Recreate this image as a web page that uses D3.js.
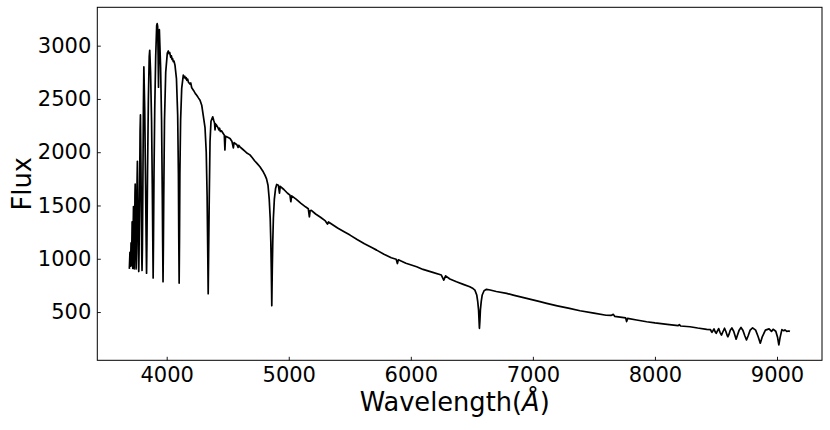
<!DOCTYPE html>
<html>
<head>
<meta charset="utf-8">
<script src="https://cdn.jsdelivr.net/npm/d3@7"></script>
<style>
  html, body { margin: 0; padding: 0; background: #fff; }
  svg { display: block; font-family: "DejaVu Sans", sans-serif; }
</style>
</head>
<body>
<svg id="chart" width="830" height="430"></svg>
<script>
// Wavelength (Angstrom) and flux (rows aligned)
const wavelength = [
  3694,3699,3704,3708,3712,3717,3720,3722,3725,3728,3731,3734,3737,3740,3742,3746,3750,3753,3757,3760,
  3765,3768,3771,3774,3778,3782,3785,3789,3793,3796,3798,3801,3805,3809,3813,3820,3827,3832,3835,3838,
  3843,3850,3857,3861,3868,3876,3882,3886,3889,3892,3896,3902,3910,3918,3922,3926,3930,3933,3936,3940,
  3950,3958,3964,3967,3970,3973,3976,3982,3992,4005,
  4013,4020,4025,4033,4038,4044,4048,4054,4060,4068,
  4080,4090,4096,4099,4102,4105,4108,4114,4123,
  4136,4142,4148,4155,4160,4165,4172,4177,4190,4197,
  4205,4220,4235,4246,4260,4273,4287,4300,4314,4324,4331,4336,4340,4344,4349,4355,4363,4377,
  4385,4392,4396,4400,4408,
  4420,4428,4433,4440,4450,4463,
  4472,4477,4482,4500,4519,4535,4546,4552,
  4575,4585,4590,4600,
  4620,4640,4660,4682,4700,4720,4740,4764,4780,4791,4805,
  4818,4830,4840,4848,4853,4857,4861,4865,4869,4874,4882,4892,4901,4915,4924,4930,4960,4990,5010,5017,
  5024,5060,5100,5140,5160,5169,5175,5185,5220,5260,5300,5317,5325,5338,5400,5450,5502,5560,5620,5680,
  5720,5780,5840,5880,5890,5898,5960,6048,6100,6180,6250,6270,6285,6320,6374,6430,6483,6510,6525,6540,
  6548,6555,6559,6562,6566,6570,6577,6585,6600,6620,6650,6700,6785,6839,6949,7058,7113,7200,7300,7386,
  7500,7600,7640,7659,7670,7700,7760,7768,7776,7850,7932,8000,8100,8190,8200,8210,8287,8350,8424,8455,
  8462,8467,8474,8484,8493,8502,8510,8522,8533,8545,8555,8570,8582,8592,8598,8606,8617,8630,8645,8657,
  8665,8675,8690,8705,8720,8737,8750,8763,8780,8800,8825,8845,8863,8880,8905,8935,8955,8968,8990,9005,
  9015,9025,9040,9055,9065,9080,9095,9106
];
const flux = [
  905,1060,930,1150,935,1347,1050,910,1250,1490,1100,905,1200,1600,1700,1200,905,1150,1700,1915,
  1400,1050,880,1100,1600,2200,2350,1900,1350,1000,890,1100,1700,2400,2800,2400,1700,1150,865,1150,
  1800,2500,2900,2957,2750,2300,1700,1200,820,1200,1800,2400,2900,3190,3207,3180,2900,2610,2950,3150,
  2800,2300,1600,1150,785,1150,1600,2300,2750,2930,
  2950,2925,2935,2890,2905,2870,2880,2850,2855,2816,
  2690,2350,1800,1200,772,1200,1800,2300,2600,
  2723,2700,2712,2690,2700,2675,2685,2660,2640,2650,
  2605,2580,2550,2535,2510,2488,2441,2340,2230,2000,1600,1100,672,1100,1600,2100,2290,2332,
  2300,2275,2210,2265,2254,
  2230,2210,2225,2195,2200,2176,
  2160,2020,2150,2140,2129,2100,2040,2090,
  2070,2045,2065,2050,
  2030,2010,1990,1975,1950,1920,1895,1863,1835,1816,1785,
  1750,1690,1560,1380,1160,900,560,900,1160,1380,1560,1660,1697,1690,1615,1680,1650,1615,1597,1535,
  1590,1560,1520,1485,1470,1394,1450,1455,1420,1390,1355,1325,1345,1335,1288,1255,1222,1180,1140,1105,
  1081,1042,1010,995,955,990,958,925,900,872,847,800,840,810,784,760,737,720,706,660,
  600,520,420,347,420,520,600,660,700,713,707,693,675,659,628,597,581,558,534,512,
  490,470,468,478,460,455,445,410,440,425,409,398,385,372,382,369,362,350,338,335,
  318,310,322,342,315,300,318,345,310,284,310,348,315,280,268,290,330,350,320,275,
  245,280,330,355,330,275,238,275,330,352,330,270,208,270,330,342,318,338,320,260,
  192,260,335,325,332,318,322,318
];
const xTicks = [4000, 5000, 6000, 7000, 8000, 9000];
const yTicks = [500, 1000, 1500, 2000, 2500, 3000];
const xDomain = [3431.5, 9368.6];
const yDomain = [47, 3360];

const svg = d3.select("#chart");
const mL = 97.3, mR = 822, mT = 7.3, mB = 360.3;

const x = d3.scaleLinear().domain(xDomain).range([mL, mR]);
const y = d3.scaleLinear().domain(yDomain).range([mB, mT]);

const n = Math.min(wavelength.length, flux.length);
const points = wavelength.slice(0, n).map((w, i) => [w, flux[i]]);

svg.append("path")
  .datum(points)
  .attr("fill", "none")
  .attr("stroke", "#000")
  .attr("stroke-width", 1.7)
  .attr("stroke-linejoin", "round")
  .attr("d", d3.line().x(d => x(d[0])).y(d => y(d[1])));

const xAxis = svg.append("g")
  .attr("transform", `translate(0,${mB})`)
  .call(d3.axisBottom(x).tickValues(xTicks).tickFormat(d3.format("d"))
    .tickSizeInner(-3.5).tickSizeOuter(0).tickPadding(7));
xAxis.select(".domain").remove();
xAxis.selectAll("text").attr("font-size", 21).attr("fill", "#000").attr("font-family", "DejaVu Sans");
xAxis.selectAll("line").attr("stroke", "#000").attr("stroke-width", 0.9);

const yAxis = svg.append("g")
  .attr("transform", `translate(${mL},0)`)
  .call(d3.axisLeft(y).tickValues(yTicks).tickFormat(d3.format("d"))
    .tickSizeInner(-3.5).tickSizeOuter(0).tickPadding(6));
yAxis.select(".domain").remove();
yAxis.selectAll("text").attr("font-size", 21).attr("fill", "#000").attr("font-family", "DejaVu Sans");
yAxis.selectAll("line").attr("stroke", "#000").attr("stroke-width", 0.9);

svg.append("rect")
  .attr("x", mL).attr("y", mT)
  .attr("width", mR - mL).attr("height", mB - mT)
  .attr("fill", "none").attr("stroke", "#000").attr("stroke-width", 1);

const xl = svg.append("text")
  .attr("x", (mL + mR) / 2 - 5).attr("y", 411)
  .attr("text-anchor", "middle").attr("font-size", 25.7).attr("fill", "#000");
xl.append("tspan").text("Wavelength(");
xl.append("tspan").attr("font-style", "italic").text("Å");
xl.append("tspan").text(")");

svg.append("text")
  .attr("transform", `translate(31,${(mT + mB) / 2}) rotate(-90)`)
  .attr("text-anchor", "middle").attr("font-size", 25.7).attr("fill", "#000")
  .text("Flux");
</script>
</body>
</html>
